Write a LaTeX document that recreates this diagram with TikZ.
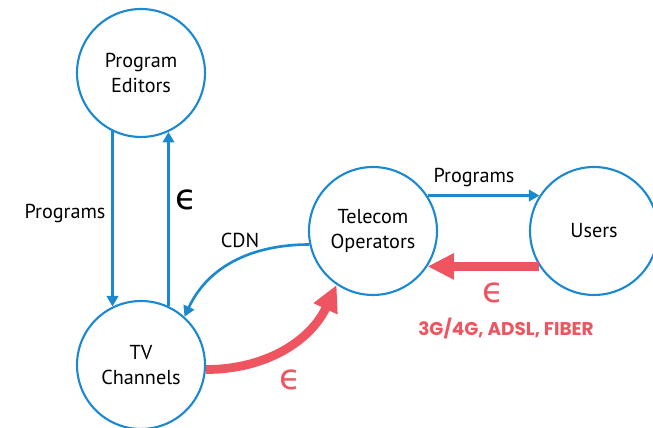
\documentclass[tikz,border=0pt]{standalone}
\usepackage{fontspec}
\setsansfont{PT Sans}
\newfontfamily\epsfont{DejaVu Sans}
\newfontfamily\redfont{Poppins}
\usetikzlibrary{arrows.meta}

\definecolor{linkblue}{RGB}{27,137,207}
\definecolor{payred}{RGB}{238,85,97}

\begin{document}
\begin{tikzpicture}[
  x=0.02cm, y=0.02cm,
  font=\sffamily\fontsize{11.5}{14}\selectfont,
  actor/.style={draw=linkblue,circle,line width=1.2pt,minimum size=2.56cm,inner sep=0pt,align=center},
  flow/.style={-{Triangle[length=6pt,width=6.5pt]},draw=linkblue,line width=1.5pt},
  money/.style={-{Triangle[length=15pt,width=14pt]},draw=payred,line width=5pt},
  euro/.style={font=\epsfont\fontsize{20}{20}\selectfont},
  every node/.style={align=center}]

  \useasboundingbox (0,0) rectangle (653,428);

  % the four actors
  \node[actor] (editors) at (141,355) {Program\\Editors};
  \node[actor] (channels) at (141,63) {TV\\Channels};
  \node[actor] (telecom) at (373,197) {Telecom\\Operators};
  \node[actor] (users) at (594,197) {Users};

  % programs flowing down to the users
  \draw[flow] (editors.-116) -- (channels.116);
  \draw[flow] (channels.65) -- (editors.-65);
  \draw[flow] (telecom.192) to[out=180,in=65] (channels.48);
  \draw[flow] (telecom.33) -- (users.147);

  % money flowing back
  \draw[money] (users.-147) -- (telecom.-33);
  \draw[money] (channels.-4) to[out=0,in=245] (telecom.236);

  % labels
  \node (lprog) at (65,215) {Programs};
  \node[euro] (leuro) at (186,228) {ϵ};
  \node (lcdn) at (240,188) {CDN};
  \node (lprog2) at (474,250) {Programs};
  \node[euro,text=payred] (leuro2) at (290,48) {ϵ};
  \node[euro,text=payred] (leuro3) at (493,135) {ϵ};
  \node[text=payred,font=\redfont\bfseries\fontsize{10.5}{12}\selectfont] (lnet) at (506,100) {3G/4G, ADSL, FIBER};
\end{tikzpicture}
\end{document}
